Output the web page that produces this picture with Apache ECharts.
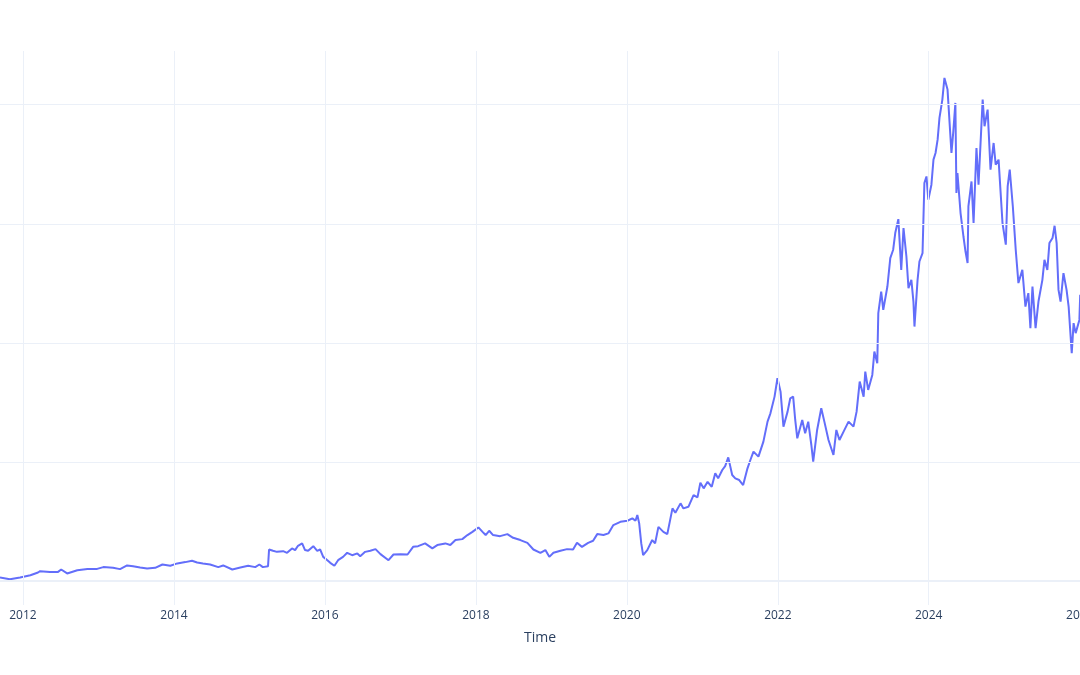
<!DOCTYPE html>
<html>
<head>
<meta charset="utf-8">
<script src="https://cdn.jsdelivr.net/npm/echarts@6/dist/echarts.min.js"></script>
<style>
  html, body { margin: 0; padding: 0; background: #fff; }
  #chart { width: 1080px; height: 675px; }
</style>
</head>
<body>
<div id="chart"></div>
<script>
// price samples, one row of ten per line
const dates = [
  "2011-09-12", "2011-10-30", "2011-12-18", "2012-02-06", "2012-03-14", "2012-03-24", "2012-05-11", "2012-06-19", "2012-07-04", "2012-08-02",
  "2012-09-20", "2012-11-08", "2012-12-25", "2013-01-24", "2013-03-12", "2013-04-15", "2013-05-19", "2013-06-17", "2013-07-21", "2013-08-24",
  "2013-10-02", "2013-11-06", "2013-12-14", "2014-01-17", "2014-02-25", "2014-03-29", "2014-04-23", "2014-05-21", "2014-06-25", "2014-08-03",
  "2014-08-27", "2014-10-10", "2014-11-18", "2014-12-26", "2015-01-29", "2015-02-18", "2015-03-07", "2015-04-01", "2015-04-06", "2015-04-25",
  "2015-05-14", "2015-06-13", "2015-07-02", "2015-07-26", "2015-08-10", "2015-08-24", "2015-09-13", "2015-09-27", "2015-10-12", "2015-11-06",
  "2015-11-25", "2015-12-09", "2015-12-24", "2016-01-13", "2016-01-27", "2016-02-16", "2016-03-05", "2016-03-29", "2016-04-18", "2016-05-12",
  "2016-06-06", "2016-06-20", "2016-07-14", "2016-08-08", "2016-09-02", "2016-09-26", "2016-11-04", "2016-11-28", "2017-01-01", "2017-02-04",
  "2017-03-03", "2017-03-27", "2017-04-30", "2017-06-04", "2017-06-28", "2017-08-06", "2017-08-30", "2017-09-24", "2017-10-27", "2017-11-21",
  "2017-12-15", "2018-01-13", "2018-02-02", "2018-02-17", "2018-03-06", "2018-03-25", "2018-04-28", "2018-06-02", "2018-06-30", "2018-08-04",
  "2018-09-07", "2018-10-06", "2018-11-09", "2018-12-03", "2018-12-22", "2019-01-11", "2019-02-14", "2019-03-18", "2019-04-16", "2019-05-05",
  "2019-05-29", "2019-06-28", "2019-07-22", "2019-08-11", "2019-09-10", "2019-10-04", "2019-10-28", "2019-12-01", "2020-01-04", "2020-01-28",
  "2020-02-12", "2020-02-21", "2020-03-01", "2020-03-11", "2020-03-20", "2020-04-09", "2020-05-03", "2020-05-17", "2020-06-02", "2020-06-26",
  "2020-07-15", "2020-08-09", "2020-08-23", "2020-09-17", "2020-10-01", "2020-10-25", "2020-11-19", "2020-12-08", "2020-12-22", "2021-01-07",
  "2021-01-26", "2021-02-15", "2021-03-04", "2021-03-18", "2021-04-07", "2021-04-21", "2021-05-06", "2021-05-25", "2021-06-09", "2021-06-28",
  "2021-07-17", "2021-08-07", "2021-08-21", "2021-09-05", "2021-09-29", "2021-10-23", "2021-11-12", "2021-11-26", "2021-12-16", "2021-12-30",
  "2022-01-14", "2022-01-28", "2022-02-17", "2022-03-02", "2022-03-16", "2022-03-26", "2022-04-05", "2022-04-29", "2022-05-13", "2022-05-28",
  "2022-06-12", "2022-06-21", "2022-07-10", "2022-07-30", "2022-08-14", "2022-09-03", "2022-09-27", "2022-10-11", "2022-10-26", "2022-11-15",
  "2022-12-09", "2023-01-02", "2023-01-17", "2023-02-01", "2023-02-20", "2023-02-28", "2023-03-14", "2023-04-03", "2023-04-13", "2023-04-27",
  "2023-05-02", "2023-05-16", "2023-05-26", "2023-06-15", "2023-06-29", "2023-07-13", "2023-07-23", "2023-08-07", "2023-08-21", "2023-09-01",
  "2023-09-15", "2023-09-25", "2023-10-09", "2023-10-19", "2023-10-24", "2023-11-08", "2023-11-17", "2023-12-02", "2023-12-11", "2023-12-21",
  "2023-12-30", "2024-01-14", "2024-01-24", "2024-02-03", "2024-02-13", "2024-02-22", "2024-03-07", "2024-03-17", "2024-04-01", "2024-04-10",
  "2024-04-20", "2024-04-29", "2024-05-09", "2024-05-14", "2024-05-19", "2024-06-03", "2024-06-17", "2024-06-27", "2024-07-07", "2024-07-11",
  "2024-07-26", "2024-08-05", "2024-08-19", "2024-08-29", "2024-09-18", "2024-09-27", "2024-10-12", "2024-10-26", "2024-11-10", "2024-11-20",
  "2024-12-04", "2024-12-23", "2025-01-08", "2025-01-17", "2025-01-27", "2025-02-11", "2025-02-25", "2025-03-10", "2025-03-29", "2025-04-13",
  "2025-04-27", "2025-05-07", "2025-05-17", "2025-06-01", "2025-06-15", "2025-07-04", "2025-07-14", "2025-07-28", "2025-08-07", "2025-08-22",
  "2025-09-01", "2025-09-11", "2025-09-20", "2025-09-30", "2025-10-14", "2025-10-29", "2025-11-08", "2025-11-23", "2025-12-02", "2025-12-12",
  "2025-12-21", "2025-12-30", "2026-01-03"
];

const prices = [
  3.1, 1.7, 3.1, 5.0, 7.3, 8.4, 7.6, 7.8, 9.8, 6.5,
  9.2, 10.3, 10.3, 11.8, 11.2, 10.1, 13.2, 12.6, 11.5, 10.7,
  11.2, 14.0, 12.9, 14.9, 16.0, 17.1, 15.7, 14.9, 14.0, 11.8,
  13.2, 9.8, 11.5, 12.9, 11.8, 14.0, 11.8, 12.6, 26.6, 25.5,
  24.6, 25.2, 23.8, 27.5, 26.1, 29.7, 31.7, 26.1, 25.5, 29.4,
  25.5, 26.6, 20.4, 17.6, 15.4, 12.9, 17.6, 20.4, 23.8, 21.8,
  23.3, 21.0, 24.6, 25.5, 26.9, 22.7, 17.6, 22.4, 22.7, 22.4,
  28.8, 29.4, 31.7, 27.5, 30.3, 31.7, 30.3, 34.5, 35.3, 38.7,
  41.4, 45.1, 41.4, 38.7, 42.3, 38.7, 37.8, 39.5, 36.4, 34.5,
  32.2, 26.6, 23.8, 26.1, 20.4, 23.8, 25.5, 26.9, 26.6, 32.2,
  28.8, 32.2, 33.9, 39.5, 38.7, 40.1, 47.1, 49.8, 50.7, 52.7,
  50.7, 55.5, 48.5, 31.7, 21.8, 26.1, 34.5, 31.7, 45.6, 41.4,
  39.5, 61.1, 57.4, 65.3, 61.1, 62.4, 72.3, 70.3, 82.6, 77.9,
  83.4, 79.2, 90.5, 86.3, 93.3, 96.6, 103.9, 89.1, 86.3, 84.9,
  80.7, 94.7, 101.7, 108.7, 104.5, 117.1, 133.9, 140.9, 154.9, 170.3,
  159.1, 129.7, 142.3, 153.5, 154.9, 135.3, 119.9, 135.3, 124.1, 133.9,
  114.3, 100.3, 126.9, 145.1, 133.9, 118.5, 105.9, 126.9, 118.5, 125.5,
  133.9, 129.7, 142.3, 167.5, 154.9, 175.9, 160.5, 173.1, 192.7, 182.9,
  225.0, 243.1, 227.7, 247.3, 271.2, 278.2, 292.2, 303.9, 261.3, 296.4,
  272.5, 246.0, 252.9, 234.7, 213.7, 252.9, 268.3, 275.4, 334.2, 339.7,
  320.2, 332.8, 353.8, 359.4, 370.6, 388.8, 404.2, 422.4, 412.6, 387.4,
  359.4, 377.6, 401.4, 325.8, 342.6, 309.0, 289.3, 276.7, 267.0, 314.5,
  335.5, 300.6, 363.6, 332.8, 404.2, 381.8, 395.8, 345.4, 367.8, 349.6,
  353.8, 300.6, 282.4, 331.3, 345.4, 314.5, 278.2, 250.2, 261.3, 230.5,
  241.8, 212.4, 247.3, 212.4, 234.7, 252.9, 269.7, 261.3, 283.8, 288.0,
  298.3, 283.8, 244.5, 234.7, 258.6, 244.5, 230.5, 191.3, 216.6, 208.2,
  206.7, 219.3, 240.3
];

// axis ticks
const yearTicks = ["2012-01-01", "2014-01-01", "2016-01-01", "2018-01-01", "2020-01-01", "2022-01-01", "2024-01-01", "2026-01-01"];
const valueTicks = [100, 200, 300, 400];
const xMin = "2011-09-12";
const xMax = "2026-01-02";

const GRID = "#EBF0F8";
const INK = "#2a3f5f";

const ts = (d) => echarts.time.parse(d).getTime();

const chart = echarts.init(document.getElementById("chart"));

const gridLines = [
  ...yearTicks.map((d) => ({ xAxis: ts(d), lineStyle: { color: GRID, width: 1, type: "solid" } })),
  ...valueTicks.map((v) => ({ yAxis: v, lineStyle: { color: GRID, width: 1, type: "solid" } })),
  { yAxis: 0, lineStyle: { color: GRID, width: 2, type: "solid" } }
];

const option = {
  animation: false,
  backgroundColor: "#fff",
  grid: { left: 0, right: 0, top: 51, bottom: 70, containLabel: false, outerBoundsMode: "none" },
  xAxis: {
    type: "value",
    min: ts(xMin),
    max: ts(xMax),
    name: "Time",
    nameLocation: "middle",
    nameGap: 26,
    nameTextStyle: { fontFamily: "Open Sans", fontSize: 14, color: INK },
    axisLine: { show: false },
    axisTick: { show: false },
    splitLine: { show: false },
    axisLabel: {
      customValues: yearTicks.map(ts),
      formatter: (v) => String(new Date(v).getFullYear()),
      fontFamily: "Open Sans",
      fontSize: 12,
      color: INK,
      margin: 5
    }
  },
  yAxis: {
    type: "value",
    min: -20,
    max: 445,
    axisLine: { show: false },
    axisTick: { show: false },
    axisLabel: { show: false },
    splitLine: { show: false }
  },
  series: [
    {
      // gridlines, drawn under the price line
      type: "line",
      data: [],
      z: 1,
      silent: true,
      markLine: {
        silent: true,
        symbol: ["none", "none"],
        label: { show: false },
        animation: false,
        data: gridLines
      }
    },
    {
      name: "Close",
      type: "line",
      z: 3,
      showSymbol: false,
      data: dates.map((d, i) => [ts(d), prices[i]]),
      lineStyle: { color: "#636efa", width: 2 },
      itemStyle: { color: "#636efa" }
    }
  ]
};

chart.setOption(option);
</script>
</body>
</html>
